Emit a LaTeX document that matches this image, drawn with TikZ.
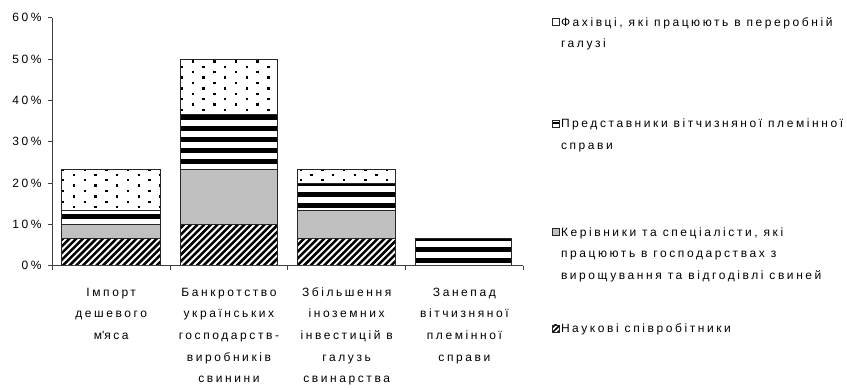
\documentclass[tikz,border=0pt]{standalone}
\usepackage{fontspec}
\setmainfont{Liberation Sans}[LetterSpace=21.5]
\definecolor{barGray}{HTML}{C0C0C0}
\tikzset{
  barline/.style={draw=black!85, line width=0.8pt},
  axisline/.style={draw=black!75, line width=0.8pt},
  txt/.style={inner sep=0pt, outer sep=0pt, font=\fontsize{12}{21.7}\selectfont},
  ylab/.style={txt, anchor=east},
  xlab/.style={txt, anchor=base, align=center},
  leg/.style={txt, anchor=base west, align=left},
}
% segments: x1 y1 x2 y2 (pixel coordinates, y downwards)
\newcommand{\grayseg}[4]{%
  \fill[barGray] (#1,#2) rectangle (#3,#4);
  \draw[barline] (#1,#2) rectangle (#3,#4);}
\newcommand{\stripeseg}[4]{%
  \begin{scope}
    \clip (#1,#2) rectangle (#3,#4);
    \fill[white] (#1,#2) rectangle (#3,#4);
    \foreach \k in {0,...,25} {\fill[black] (#1,{7.3+11*\k-2.5}) rectangle (#3,{7.3+11*\k+2.5});}
  \end{scope}
  \draw[barline] (#1,#2) rectangle (#3,#4);}
\newcommand{\hatchseg}[6]{%
  \begin{scope}
    \clip (#1,#2) rectangle (#3,#4);
    \fill[white] (#1,#2) rectangle (#3,#4);
    \foreach \k in {#5,...,#6} {\draw[black, line width=2.5pt] ({6.7*\k-#2+5},{#2-5}) -- ({6.7*\k-#4-5},{#4+5});}
  \end{scope}
  \draw[barline] (#1,#2) rectangle (#3,#4);}
\newcommand{\dotseg}[8]{%
  \begin{scope}
    \clip (#1,#2) rectangle (#3,#4);
    \fill[white] (#1,#2) rectangle (#3,#4);
    \foreach \i in {#5,...,#6} {\foreach \j in {#7,...,#8} {%
      \fill[black] ({182+21.6*\i-1.2},{66.7+10.8*\j-1.2}) rectangle +(2.4,2.4);
      \fill[black] ({192.8+21.6*\i-1.2},{61.3+10.8*\j-1.2}) rectangle +(2.4,2.4);}}
  \end{scope}
  \draw[barline] (#1,#2) rectangle (#3,#4);}
\begin{document}
\begin{tikzpicture}[x=1pt,y=-1pt]
\useasboundingbox (0,0) rectangle (847,389);
\fill[white] (0,0) rectangle (847,389);

% bar 1
\hatchseg{61.7}{238.1}{160.3}{265.7}{43}{65}
\grayseg{61.7}{224.4}{160.3}{238.1}
\stripeseg{61.7}{210.6}{160.3}{224.4}
\dotseg{61.7}{169.3}{160.3}{210.6}{-6}{-1}{9}{14}
% bar 2
\hatchseg{180.3}{224.4}{277.3}{265.7}{59}{82}
\grayseg{180.3}{169.3}{277.3}{224.4}
\stripeseg{180.3}{114.2}{277.3}{169.3}
\dotseg{180.3}{59.0}{277.3}{114.2}{-1}{5}{-1}{5}
% bar 3
\hatchseg{297.5}{238.1}{395}{265.7}{78}{100}
\grayseg{297.5}{210.6}{395}{238.1}
\stripeseg{297.5}{183.0}{395}{210.6}
\dotseg{297.5}{169.3}{395}{183.0}{4}{10}{9}{12}
% bar 4
\stripeseg{415}{238.1}{511.5}{265.7}

% axes
\coordinate (ytop) at (52.3,17.7);
\coordinate (orig) at (52.3,265.7);
\coordinate (xend) at (523.3,265.7);
\draw[axisline] (ytop) -- (orig) -- (xend);
\foreach \v in {0,...,6} {\draw[axisline] (48.3,{265.7-41.33*\v}) -- (52.3,{265.7-41.33*\v});}
\foreach \x in {52.3,170.05,287.8,405.55,523.3} {\draw[axisline] (\x,265.7) -- (\x,270.2);}

% y labels
\node[ylab] (y0) at (41.5,265.7) {0\%};
\node[ylab] (y10) at (41.5,224.4) {10\%};
\node[ylab] (y20) at (41.5,183.0) {20\%};
\node[ylab] (y30) at (41.5,141.7) {30\%};
\node[ylab] (y40) at (41.5,100.4) {40\%};
\node[ylab] (y50) at (41.5,59.0) {50\%};
\node[ylab] (y60) at (41.5,17.7) {60\%};

% x labels (base anchor = baseline of the last line)
\node[xlab] (c1) at (111.2,339.4) {Імпорт\\дешевого\\м\textquotesingle яса};
\node[xlab] (c2) at (228.9,382.8) {Банкротство\\українських\\господарств-\\виробників\\свинини};
\node[xlab] (c3) at (346.7,382.8) {Збільшення\\іноземних\\інвестицій в\\галузь\\свинарства};
\node[xlab] (c4) at (464.4,361.1) {Занепад\\вітчизняної\\племінної\\справи};

% legend markers
\fill[white] (552,18.2) rectangle (559,25.2);
\draw[barline, line width=0.6pt] (552,18.2) rectangle (559,25.2);
\fill[white] (552,119.8) rectangle (559,126.8);
\fill[black] (552,121.6) rectangle (559,123.8);
\draw[barline, line width=0.6pt] (552,119.8) rectangle (559,126.8);
\fill[barGray] (552,228.2) rectangle (559,235.2);
\draw[barline, line width=0.6pt] (552,228.2) rectangle (559,235.2);
\begin{scope}
  \clip (552,324.8) rectangle (559,331.8);
  \foreach \c in {870,875,880,885,890} {\draw[black, line width=1.6pt] ({\c-320},320) -- ({\c-336},336);}
\end{scope}
\draw[barline, line width=0.6pt] (552,324.8) rectangle (559,331.8);

% legend texts (base anchor = baseline of the last line)
\node[leg] (l1) at (561,47.7) {Фахівці, які працюють в переробній\\галузі};
\node[leg] (l2) at (561,149.3) {Представники вітчизняної племінної\\справи};
\node[leg] (l3) at (561,279.4) {Керівники та спеціалісти, які\\працюють в господарствах з\\вирощування та відгодівлі свиней};
\node[leg] (l4) at (561,332.6) {Наукові співробітники};
\end{tikzpicture}
\end{document}
